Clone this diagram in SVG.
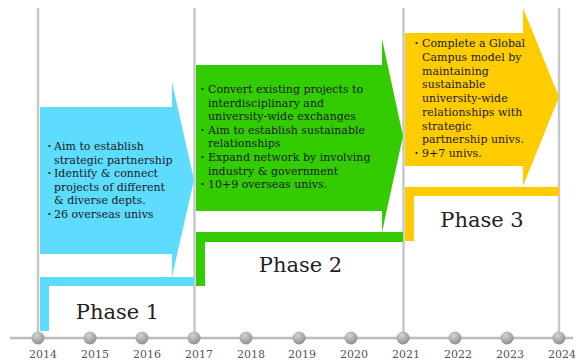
<svg xmlns="http://www.w3.org/2000/svg" width="576" height="361" viewBox="0 0 576 361">
<defs>
<radialGradient id="dot" cx="0.4" cy="0.3" r="0.75">
<stop offset="0" stop-color="#d4d4d4"/>
<stop offset="1" stop-color="#8c8c8c"/>
</radialGradient>
</defs>
<style>
.vline{stroke:#c8c8c8;stroke-width:2.5;fill:none}
.axis{stroke:#bdbdbd;stroke-width:2.5;fill:none}
.dot{fill:url(#dot)}
.yr{font-family:"DejaVu Serif",serif;font-size:11px;fill:#555;text-anchor:middle}
.b{font-family:"DejaVu Serif",serif;font-size:11px;fill:#1a1a1a}
.bu{font-weight:bold}
.ph{font-family:"DejaVu Serif",serif;font-size:21px;fill:#222;text-anchor:middle}
.c1{fill:#5edcff}
.c2{fill:#33cc00}
.c3{fill:#ffcc00}
</style>
<rect width="576" height="361" fill="#fff"/>
<g id="gridlines">
<line class="vline" x1="38" y1="8" x2="38" y2="338"/>
<line class="vline" x1="194.5" y1="8" x2="194.5" y2="338"/>
<line class="vline" x1="403.5" y1="8" x2="403.5" y2="338"/>
<line class="vline" x1="559" y1="8" x2="559" y2="338"/>
</g>
<g id="phase1">
<polygon class="c1" points="40,107 172,107 172,82 194,180 172,277 172,254 40,254"/>
<polygon class="c1" points="40,277 194,277 194,286 49,286 49,331 40,331"/>
<text class="b"><tspan class="bu" x="47.5" y="150">·</tspan><tspan x="54" y="150">Aim to establish</tspan><tspan x="54" y="163.5">strategic partnership</tspan><tspan class="bu" x="47.5" y="177">·</tspan><tspan x="54" y="177">Identify &amp; connect</tspan><tspan x="54" y="190.5">projects of different</tspan><tspan x="54" y="204">&amp; diverse depts.</tspan><tspan class="bu" x="47.5" y="217.5">·</tspan><tspan x="54" y="217.5">26 overseas univs</tspan></text>
<text class="ph" x="117.5" y="319">Phase 1</text>
</g>
<g id="phase2">
<polygon class="c2" points="196,65 382,65 382,39 403,136 382,232 382,211 196,211"/>
<polygon class="c2" points="196,232 403,232 403,242 205,242 205,286 196,286"/>
<text class="b"><tspan class="bu" x="200.5" y="93">·</tspan><tspan x="208" y="93">Convert existing projects to</tspan><tspan x="208" y="106.6">interdisciplinary and</tspan><tspan x="208" y="120.2">university-wide exchanges</tspan><tspan class="bu" x="200.5" y="133.8">·</tspan><tspan x="208" y="133.8">Aim to establish sustainable</tspan><tspan x="208" y="147.4">relationships</tspan><tspan class="bu" x="200.5" y="161">·</tspan><tspan x="208" y="161">Expand network by involving</tspan><tspan x="208" y="174.6">industry &amp; government</tspan><tspan class="bu" x="200.5" y="188.2">·</tspan><tspan x="208" y="188.2">10+9 overseas univs.</tspan></text>
<text class="ph" x="300.5" y="272">Phase 2</text>
</g>
<g id="phase3">
<polygon class="c3" points="405,33 523,33 523,8 559,97 523,186 523,166 405,166"/>
<polygon class="c3" points="405,187 559,187 559,196 414,196 414,241 405,241"/>
<text class="b"><tspan class="bu" x="414.5" y="47">·</tspan><tspan x="422" y="47">Complete a Global</tspan><tspan x="422" y="60.75">Campus model by</tspan><tspan x="422" y="74.5">maintaining</tspan><tspan x="422" y="88.25">sustainable</tspan><tspan x="422" y="102">university-wide</tspan><tspan x="422" y="115.75">relationships with</tspan><tspan x="422" y="129.5">strategic</tspan><tspan x="422" y="143.25">partnership univs.</tspan><tspan class="bu" x="414.5" y="157">·</tspan><tspan x="422" y="157">9+7 univs.</tspan></text>
<text class="ph" x="482" y="227">Phase 3</text>
</g>
<g id="timeline">
<line class="axis" x1="10" y1="338" x2="573" y2="338"/>
<circle class="dot" cx="38" cy="338" r="6.5"/>
<circle class="dot" cx="90" cy="338" r="6.5"/>
<circle class="dot" cx="142" cy="338" r="6.5"/>
<circle class="dot" cx="194" cy="338" r="6.5"/>
<circle class="dot" cx="246" cy="338" r="6.5"/>
<circle class="dot" cx="299" cy="338" r="6.5"/>
<circle class="dot" cx="351" cy="338" r="6.5"/>
<circle class="dot" cx="403" cy="338" r="6.5"/>
<circle class="dot" cx="455" cy="338" r="6.5"/>
<circle class="dot" cx="507" cy="338" r="6.5"/>
<circle class="dot" cx="559" cy="338" r="6.5"/>
<text class="yr" x="43" y="358">2014</text>
<text class="yr" x="95" y="358">2015</text>
<text class="yr" x="147" y="358">2016</text>
<text class="yr" x="199" y="358">2017</text>
<text class="yr" x="251" y="358">2018</text>
<text class="yr" x="302" y="358">2019</text>
<text class="yr" x="354" y="358">2020</text>
<text class="yr" x="406" y="358">2021</text>
<text class="yr" x="458" y="358">2022</text>
<text class="yr" x="510" y="358">2023</text>
<text class="yr" x="562" y="358">2024</text>
</g>
</svg>
